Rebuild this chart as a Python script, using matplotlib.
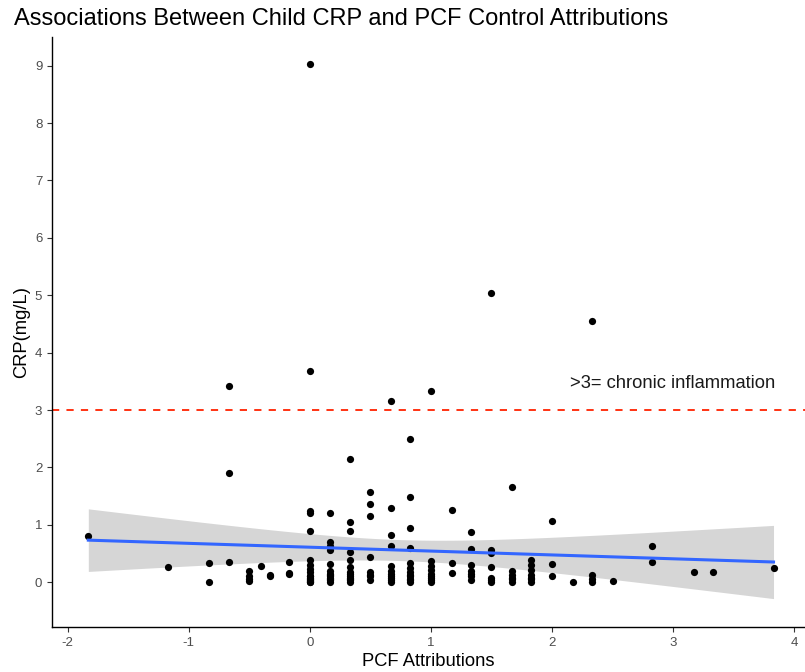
import numpy as np
import matplotlib
matplotlib.use("Agg")
import matplotlib.pyplot as plt

plt.rcParams['font.family'] = ['Liberation Sans', 'DejaVu Sans']
plt.rcParams['axes.unicode_minus'] = False

# PCF control attribution score per child, with matching CRP (mg/L)
pcf = [
    -1.83, -1.17, -0.83, -0.83,
    -0.67, -0.67, -0.67,
    -0.5, -0.5, -0.5, -0.5,
    -0.4, -0.33, -0.33, -0.17, -0.17, -0.17,
    0, 0, 0, 0, 0, 0, 0, 0, 0, 0, 0, 0, 0, 0, 0, 0, 0,
    0.17, 0.17, 0.17, 0.17, 0.17, 0.17, 0.17, 0.17, 0.17, 0.17, 0.17, 0.17, 0.17,
    0.33, 0.33, 0.33, 0.33, 0.33, 0.33, 0.33, 0.33, 0.33, 0.33, 0.33, 0.33, 0.33,
    0.5, 0.5, 0.5, 0.5, 0.5, 0.5, 0.5, 0.5,
    0.67, 0.67, 0.67, 0.67, 0.67, 0.67, 0.67, 0.67, 0.67, 0.67, 0.67,
    0.83, 0.83, 0.83, 0.83, 0.83, 0.83, 0.83, 0.83, 0.83, 0.83, 0.83, 0.83,
    1.0, 1.0, 1.0, 1.0, 1.0, 1.0, 1.0, 1.0, 1.0,
    1.17, 1.17, 1.17,
    1.33, 1.33, 1.33, 1.33, 1.33, 1.33, 1.33,
    1.5, 1.5, 1.5, 1.5, 1.5, 1.5, 1.5,
    1.67, 1.67, 1.67, 1.67, 1.67, 1.67,
    1.83, 1.83, 1.83, 1.83, 1.83, 1.83, 1.83,
    2.0, 2.0, 2.0,
    2.17, 2.33, 2.33, 2.33, 2.33, 2.5,
    2.83, 2.83, 3.17, 3.33, 3.83,
]
crp = [
    0.80, 0.27, 0.33, 0.00,
    3.42, 1.91, 0.36,
    0.19, 0.10, 0.05, 0.02,
    0.28, 0.12, 0.10, 0.35, 0.16, 0.14,
    9.03, 3.68, 1.24, 1.20, 0.89, 0.38, 0.30, 0.23, 0.17, 0.11, 0.10, 0.07, 0.05, 0.03, 0.02, 0.01, 0.00,
    1.20, 0.70, 0.63, 0.56, 0.31, 0.20, 0.15, 0.13, 0.10, 0.08, 0.06, 0.03, 0.00,
    2.14, 1.05, 0.89, 0.53, 0.38, 0.26, 0.18, 0.14, 0.11, 0.08, 0.05, 0.03, 0.00,
    1.57, 1.37, 1.15, 0.44, 0.17, 0.13, 0.10, 0.04,
    3.15, 1.29, 0.82, 0.63, 0.28, 0.19, 0.15, 0.11, 0.07, 0.04, 0.00,
    2.50, 1.48, 0.94, 0.59, 0.33, 0.25, 0.17, 0.13, 0.10, 0.06, 0.03, 0.00,
    3.34, 0.37, 0.29, 0.21, 0.14, 0.11, 0.07, 0.04, 0.01,
    1.25, 0.34, 0.16,
    0.88, 0.57, 0.30, 0.20, 0.15, 0.11, 0.04,
    5.04, 0.56, 0.51, 0.26, 0.08, 0.03, 0.00,
    1.66, 0.19, 0.12, 0.08, 0.05, 0.00,
    0.38, 0.30, 0.21, 0.12, 0.08, 0.05, 0.00,
    1.07, 0.31, 0.11,
    0.00, 4.55, 0.12, 0.06, 0.00, 0.02,
    0.63, 0.36, 0.18, 0.17, 0.24,
]

x = np.array(pcf)
y = np.array(crp)

# linear fit with 95% confidence band (like geom_smooth(method="lm"))
n = len(x)
b1, b0 = np.polyfit(x, y, 1)
resid = y - (b0 + b1 * x)
s = np.sqrt(np.sum(resid ** 2) / (n - 2))
sxx = np.sum((x - x.mean()) ** 2)
xs = np.linspace(x.min(), x.max(), 80)
fit = b0 + b1 * xs
se = s * np.sqrt(1.0 / n + (xs - x.mean()) ** 2 / sxx)
tcrit = 1.976

fig = plt.figure(figsize=(8.05, 6.72), dpi=100)
ax = fig.add_axes([0.0646, 0.067, 0.9354, 0.878])

ax.axhline(3, color='#FF2200', linestyle=(0, (4, 4)), lw=1.3, zorder=1)
ax.scatter(x, y, s=27, color='black', zorder=3, linewidths=0)
ax.fill_between(xs, fit - tcrit * se, fit + tcrit * se, color='#999999',
                alpha=0.4, linewidth=0, zorder=2)
ax.plot(xs, fit, color='#3366FF', lw=2.2, zorder=4)

ax.text(3.0, 3.46, '>3= chronic inflammation', ha='center', va='center',
        fontsize=13.2, color='#1a1a1a')

ax.set_xlim(-2.13, 4.09)
ax.set_ylim(-0.78, 9.5)
ax.set_xticks(range(-2, 5))
ax.set_yticks(range(0, 10))

for side in ['top', 'right']:
    ax.spines[side].set_visible(False)
for side in ['left', 'bottom']:
    ax.spines[side].set_linewidth(1.0)
    ax.spines[side].set_color('black')
ax.tick_params(axis='both', length=3.5, width=0.8, color='#333333',
               labelcolor='#4D4D4D', labelsize=9.5)

ax.set_xlabel('PCF Attributions', fontsize=13.2, color='black', labelpad=3)
ax.set_ylabel('CRP(mg/L)', fontsize=13.2, color='black', labelpad=3)
fig.text(0.017, 0.972, 'Associations Between Child CRP and PCF Control Attributions',
         fontsize=17, ha='left', va='center', color='black')

fig.savefig('out.png', dpi=100)
